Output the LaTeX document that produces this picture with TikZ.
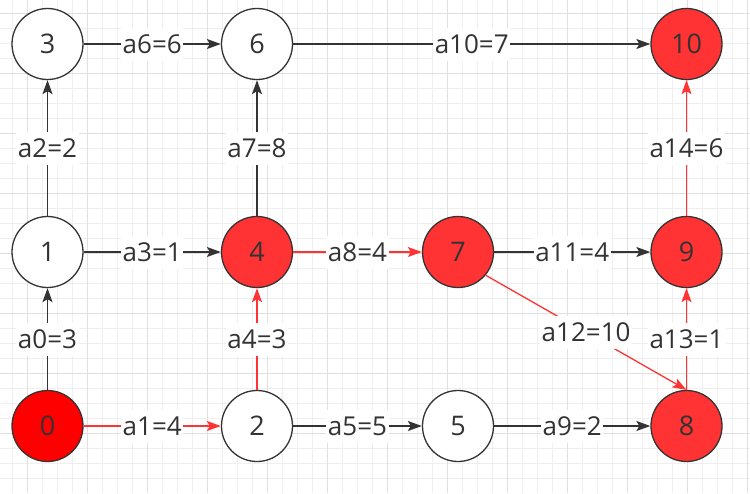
\documentclass[tikz,border=0pt]{standalone}
\usepackage{fontspec}
\setmainfont{Open Sans}
\usetikzlibrary{arrows.meta}
\definecolor{ink}{HTML}{333333}
\definecolor{redA}{HTML}{FF3333}
\definecolor{redB}{HTML}{FF0000}
\definecolor{gmin}{HTML}{EFEFEF}
\definecolor{gmaj}{HTML}{E0E0E0}
\begin{document}
\begin{tikzpicture}[x=1pt,y=-1pt,
 vtx/.style={circle,draw=ink,line width=1.3pt,minimum size=71pt,inner sep=0pt,font=\fontsize{27}{32}\selectfont,text=ink,fill=white},
 hot/.style={vtx,fill=redA},
 hottest/.style={vtx,fill=redB},
 lbl/.style={fill=white,text=ink,font=\fontsize{26}{31}\selectfont,inner xsep=1.5pt,inner ysep=0pt,minimum height=33pt},
 blk/.style={draw=ink,line width=1.3pt,-{Stealth[length=14pt,width=10pt,inset=3pt]}},
 redge/.style={draw=redA,line width=1.3pt,-{Stealth[length=14pt,width=10pt,inset=3pt]}}
]
\fill[white] (0,0) rectangle (750,493);
\useasboundingbox (0,0) rectangle (750,493);
% grid
\foreach \i in {0,...,49}{\draw[gmin,line width=1pt] ({12.3+15*\i},0) -- ({12.3+15*\i},493);}
\foreach \i in {0,...,31}{\draw[gmin,line width=1pt] (0,{13.3+15*\i}) -- (750,{13.3+15*\i});}
\foreach \i in {0,...,12}{\draw[gmaj,line width=1pt] ({27.3+60*\i},0) -- ({27.3+60*\i},493);}
\foreach \i in {0,...,7}{\draw[gmaj,line width=1pt] (0,{13.3+60*\i}) -- (750,{13.3+60*\i});}
% nodes
\node[vtx] (n3) at (47.5,44) {3};
\node[vtx] (n6) at (257,44) {6};
\node[hot] (n10) at (686.5,44) {10};
\node[vtx] (n1) at (47.5,252) {1};
\node[hot] (n4) at (257,252) {4};
\node[hot] (n7) at (458,252) {7};
\node[hot] (n9) at (686.5,252) {9};
\node[hottest] (n0) at (47.5,426) {0};
\node[vtx] (n2) at (257,426) {2};
\node[vtx] (n5) at (458,426) {5};
\node[hot] (n8) at (686.5,426) {8};
% edges
\draw[blk] (n0) -- node[lbl]{a0=3} (n1);
\draw[redge] (n0) -- node[lbl]{a1=4} (n2);
\draw[blk] (n1) -- node[lbl]{a2=2} (n3);
\draw[blk] (n1) -- node[lbl]{a3=1} (n4);
\draw[redge] (n2) -- node[lbl]{a4=3} (n4);
\draw[blk] (n2) -- node[lbl]{a5=5} (n5);
\draw[blk] (n3) -- node[lbl]{a6=6} (n6);
\draw[blk] (n4) -- node[lbl]{a7=8} (n6);
\draw[redge] (n4) -- node[lbl]{a8=4} (n7);
\draw[blk] (n5) -- node[lbl]{a9=2} (n8);
\draw[blk] (n6) -- node[lbl]{a10=7} (n10);
\draw[blk] (n7) -- node[lbl]{a11=4} (n9);
\draw[redge] (n7.-40) -- node[lbl]{a12=10} (n8.north);
\draw[redge] (n8) -- node[lbl]{a13=1} (n9);
\draw[redge] (n9) -- node[lbl]{a14=6} (n10);
\end{tikzpicture}
\end{document}
